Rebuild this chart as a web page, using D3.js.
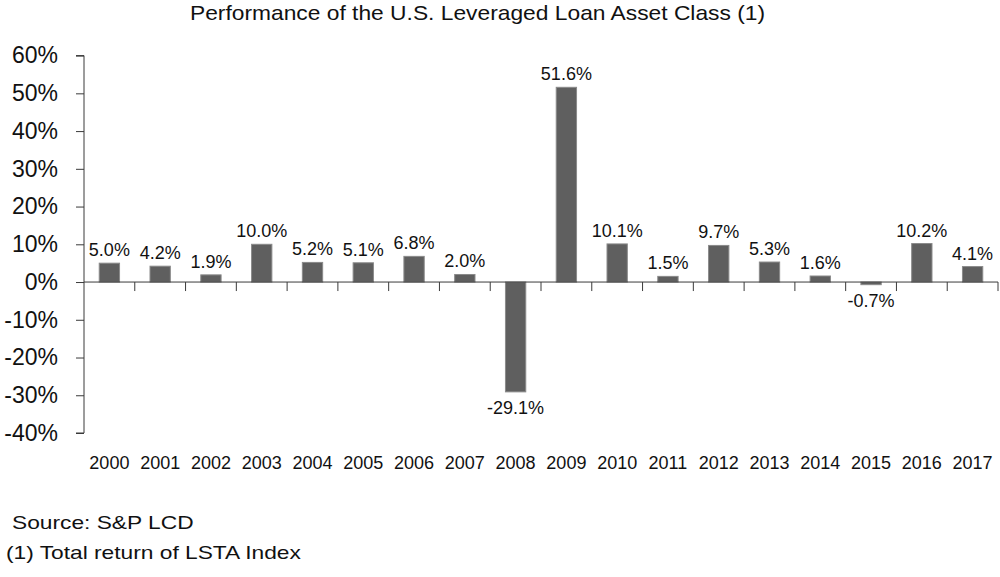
<!DOCTYPE html>
<html><head><meta charset="utf-8">
<script src="https://cdn.jsdelivr.net/npm/d3@7"></script>
<style>body{margin:0;background:#fff}svg{display:block;font-family:"Liberation Sans",Arial,Helvetica,sans-serif}</style>
</head><body><svg id="c" width="1000" height="577"></svg>
<script>
const years = ["2000","2001","2002","2003","2004","2005","2006","2007","2008","2009","2010","2011","2012","2013","2014","2015","2016","2017"];
const returns = [5.0,4.2,1.9,10.0,5.2,5.1,6.8,2.0,-29.1,51.6,10.1,1.5,9.7,5.3,1.6,-0.7,10.2,4.1];
const yTicks = [60,50,40,30,20,10,0,-10,-20,-30,-40];
const title = "Performance of the U.S. Leveraged Loan Asset Class (1)";
const notes = ["Source: S&P LCD","(1) Total return of LSTA Index"];

const svg = d3.select("#c");
const x = d3.scaleBand().domain(years).range([84, 998]).paddingInner(0.6).paddingOuter(0.3);
const y = d3.scaleLinear().domain([-40, 60]).range([433, 55.6]);
const axisColor = "#3a3a3a";

svg.append("text").attr("transform", "translate(477.5,20) scale(1.14,1)").attr("text-anchor","middle")
  .attr("font-size", 20).attr("fill","#111").text(title);

// y axis
const ya = svg.append("g").attr("transform","translate(84,0)")
  .call(d3.axisLeft(y).tickValues(yTicks).tickSize(8).tickPadding(18).tickFormat(d => d + "%"));
ya.select(".domain").attr("stroke", axisColor).attr("d", `M-8,${y(60)}H0V${y(-40)}H-8`);
ya.selectAll(".tick line").attr("stroke", axisColor);
ya.selectAll(".tick text").attr("font-size", 23).attr("fill","#111").attr("font-family","Liberation Sans, Arial, sans-serif");

// bars
svg.append("g").selectAll("rect").data(returns).join("rect")
  .attr("x", (d,i) => x(years[i]))
  .attr("width", x.bandwidth())
  .attr("y", d => y(Math.max(0,d)))
  .attr("height", d => Math.abs(y(d) - y(0)))
  .attr("fill", "#5f5f5f").attr("stroke", "#8a8a8a").attr("stroke-width", 1);

// x axis line and ticks at band boundaries
const x0 = 84;
svg.append("line").attr("x1", x0).attr("x2", 998).attr("y1", y(0)).attr("y2", y(0)).attr("stroke", axisColor);
svg.append("g").selectAll("line").data(years).join("line")
  .attr("x1", (d,i) => x0 + (i+1)*x.step()).attr("x2", (d,i) => x0 + (i+1)*x.step())
  .attr("y1", y(0)).attr("y2", y(0) + 9).attr("stroke", axisColor);

// year labels
svg.append("g").selectAll("text").data(years).join("text")
  .attr("x", d => x(d) + x.bandwidth()/2).attr("y", 469)
  .attr("text-anchor","middle").attr("font-size", 18).attr("fill","#111").text(d => d);

// value labels
svg.append("g").selectAll("text").data(returns).join("text")
  .attr("x", (d,i) => x(years[i]) + x.bandwidth()/2)
  .attr("y", d => d >= 0 ? y(d) - 7 : y(d) + 22)
  .attr("text-anchor","middle").attr("font-size", 18).attr("fill","#111")
  .text(d => d.toFixed(1) + "%");

// footnotes
svg.append("text").attr("transform", "translate(12,529) scale(1.23,1)").attr("font-size", 18.5).attr("fill","#111").text(notes[0]);
svg.append("text").attr("transform", "translate(6,559) scale(1.23,1)").attr("font-size", 18.5).attr("fill","#111").text(notes[1]);
</script></body></html>
